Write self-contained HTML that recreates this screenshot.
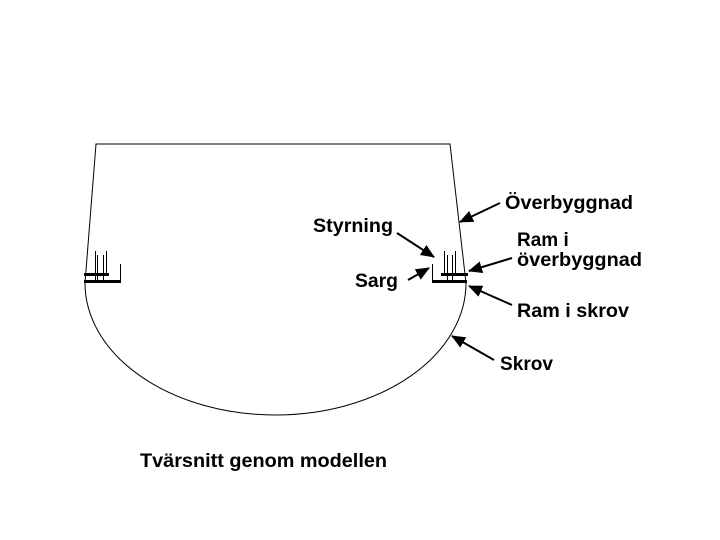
<!DOCTYPE html>
<html><head><meta charset="utf-8"><style>
body{margin:0;background:#fff}
svg{display:block}
text{font-family:"Liberation Sans",sans-serif;font-size:19px;font-weight:bold;fill:#000}
</style></head><body>
<svg width="720" height="540" viewBox="0 0 720 540">
<defs>
<marker id="b" markerWidth="14" markerHeight="12" refX="13" refY="6" orient="auto" markerUnits="userSpaceOnUse"><path d="M0,0 L14,6 L0,12 z" fill="#000"/></marker></defs>
<g fill="none" stroke="#000" stroke-width="1">
<path d="M85,283 L96,144 L450,144 L466,283"/>
<path d="M85,283 A190.5,132 0 0 0 466,283"/>
</g>
<g stroke="#000">
<line x1="84" y1="274.5" x2="109" y2="274.5" stroke-width="3"/>
<line x1="84" y1="281.5" x2="121" y2="281.5" stroke-width="3"/>
<line x1="120.5" y1="264" x2="120.5" y2="281" stroke-width="1"/>
<line x1="95.5" y1="251" x2="95.5" y2="281" stroke-width="1"/>
<line x1="97.5" y1="255" x2="97.5" y2="281" stroke-width="1"/>
<line x1="103.5" y1="255" x2="103.5" y2="281" stroke-width="1"/>
<line x1="106.5" y1="251" x2="106.5" y2="274" stroke-width="1"/>
</g>
<g stroke="#000">
<line x1="441" y1="274.5" x2="468" y2="274.5" stroke-width="3"/>
<line x1="432" y1="281.5" x2="467" y2="281.5" stroke-width="3"/>
<line x1="432.5" y1="264" x2="432.5" y2="281" stroke-width="1"/>
<line x1="444.5" y1="251" x2="444.5" y2="274" stroke-width="1"/>
<line x1="447.5" y1="255" x2="447.5" y2="281" stroke-width="1"/>
<line x1="452.5" y1="255" x2="452.5" y2="281" stroke-width="1"/>
<line x1="455.5" y1="251" x2="455.5" y2="274" stroke-width="1"/>
</g>
<g stroke="#000" stroke-width="2" marker-end="url(#b)">
<line x1="500" y1="203" x2="460" y2="222"/>
<line x1="397" y1="233" x2="434" y2="257"/>
<line x1="408" y1="280" x2="429" y2="268"/>
<line x1="512" y1="258" x2="469" y2="271"/>
<line x1="512" y1="305" x2="469" y2="286"/>
<line x1="494" y1="360" x2="452" y2="336"/>
</g>
<text x="505" y="209" textLength="128" lengthAdjust="spacingAndGlyphs">Överbyggnad</text>
<text x="313" y="232" textLength="80" lengthAdjust="spacingAndGlyphs">Styrning</text>
<text x="355" y="287" textLength="43" lengthAdjust="spacingAndGlyphs">Sarg</text>
<text x="517" y="246">Ram i</text>
<text x="517" y="266" textLength="125" lengthAdjust="spacingAndGlyphs">överbyggnad</text>
<text x="517" y="317" textLength="112" lengthAdjust="spacingAndGlyphs">Ram i skrov</text>
<text x="500" y="370" textLength="53" lengthAdjust="spacingAndGlyphs">Skrov</text>
<text x="140" y="467" textLength="247" lengthAdjust="spacingAndGlyphs">Tvärsnitt genom modellen</text>
</svg>
</body></html>
